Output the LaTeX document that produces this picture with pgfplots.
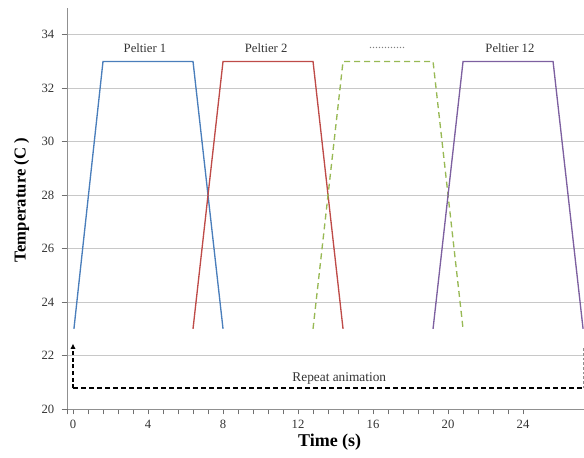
\documentclass[border=0pt]{standalone}
\usepackage{fontspec}
\setmainfont{Liberation Serif}
\usepackage{pgfplots}
\pgfplotsset{compat=1.18}
\usetikzlibrary{arrows.meta}
\definecolor{pblue}{HTML}{4A7EBB}
\definecolor{pred}{HTML}{BE4B48}
\definecolor{pgreen}{HTML}{98B954}
\definecolor{ppurple}{HTML}{7D60A0}
\definecolor{gridgray}{HTML}{C8C8C8}
\definecolor{axgray}{HTML}{909090}
\definecolor{tickgray}{HTML}{707070}
\definecolor{txtgray}{HTML}{333333}
\begin{document}
\begin{tikzpicture}
\begin{axis}[
  scale only axis,
  width=387.75pt,height=300.75pt,
  xmin=-0.32,xmax=27.25,ymin=20,ymax=35,
  axis x line*=bottom,
  axis y line*=left,
  axis line style={axgray,line width=0.7pt,-},
  xtick={0,4,...,24},
  ytick={20,22,...,34},
  minor x tick num=4,
  extra x ticks={-0.32},
  extra x tick labels={},
  extra x tick style={grid=none},
  xtick pos=bottom,
  ytick pos=left,
  tick align=outside,
  major tick length=4pt,
  minor tick length=4pt,
  tick style={color=tickgray,line width=0.7pt},
  ymajorgrids,
  grid style={gridgray,line width=0.6pt},
  ticklabel style={font=\fontsize{9.5}{11}\selectfont,text=txtgray},
  /pgf/number format/assume math mode=true,
  yticklabel style={xshift=-2pt},
  xticklabel style={yshift=-1pt},
]
\coordinate (sw) at (rel axis cs:0,0);
\coordinate (ne) at (rel axis cs:1,1);
\addplot[pblue,line width=1pt] coordinates {(0.05,23) (1.6,33) (6.4,33) (8,23)};
\addplot[pred,line width=1pt] coordinates {(6.4,23) (8,33) (12.8,33) (14.4,23)};
\addplot[pgreen,line width=1pt,dash pattern=on 4.5pt off 3pt] coordinates {(12.8,23) (14.4,33) (19.2,33) (20.8,23)};
\addplot[ppurple,line width=1pt] coordinates {(19.2,23) (20.8,33) (25.6,33) (27.2,23)};
\addplot[black,line width=1.5pt,dash pattern=on 4pt off 2pt] coordinates {(0,20.77) (27.3,20.77)};
\addplot[black,line width=1.2pt,dash pattern=on 3pt off 2pt,-{Latex[length=4pt,width=4pt]}] coordinates {(0,20.77) (0,22.45)};
\addplot[axgray,line width=0.4pt,dash pattern=on 2pt off 1.5pt] coordinates {(27.2,20.77) (27.2,22.3)};
\node[font=\fontsize{9.5}{11}\selectfont,text=txtgray] at (axis cs:3.84,33.5) {Peltier 1};
\node[font=\fontsize{9.5}{11}\selectfont,text=txtgray] at (axis cs:10.3,33.5) {Peltier 2};
\node[font=\fontsize{9}{10}\selectfont,text=gray] at (axis cs:16.75,33.5) {............};
\node[font=\fontsize{9.5}{11}\selectfont,text=txtgray] at (axis cs:23.3,33.5) {Peltier 12};
\node[font=\fontsize{10}{12}\selectfont,text=txtgray] at (axis cs:14.2,21.15) {Repeat animation};
\end{axis}
\node[font=\fontsize{13.5}{15}\selectfont\bfseries] at ([shift={(197pt,-25pt)}]sw) {Time (s)};
\node[font=\fontsize{12.5}{14}\selectfont\bfseries,rotate=90] at ([shift={(-34pt,156.75pt)}]sw) {Temperature (C )};
\pgfresetboundingbox
\path ([shift={(-50.25pt,-36pt)}]sw) rectangle ([shift={(0pt,6pt)}]ne);
\end{tikzpicture}
\end{document}
